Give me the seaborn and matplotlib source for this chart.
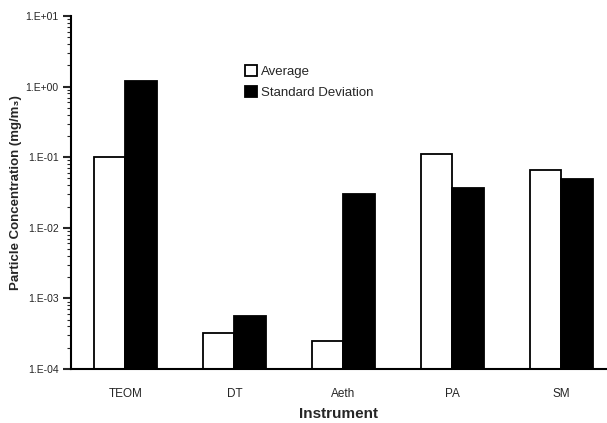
import numpy as np
import pandas as pd
import matplotlib
matplotlib.use("Agg")
import matplotlib.pyplot as plt
import matplotlib.ticker as mticker
import seaborn as sns

instruments = ["TEOM", "DT", "Aeth", "PA", "SM"]
average = [1.0e-1, 3.2e-4, 2.5e-4, 1.1e-1, 6.6e-2]
std_dev = [1.22, 5.7e-4, 3.0e-2, 3.6e-2, 4.9e-2]
series = ["Average", "Standard Deviation"]

df = pd.DataFrame({
    "instrument": instruments * 2,
    "stat": [series[0]] * len(instruments) + [series[1]] * len(instruments),
    "value": average + std_dev,
})

sns.set_style("white")
plt.rcParams["font.family"] = ["Liberation Sans", "DejaVu Sans"]

fig = plt.figure(figsize=(6.07, 4.23), dpi=100)
ax = fig.add_axes([0.117, 0.128, 0.881, 0.834])

sns.barplot(data=df, x="instrument", y="value", hue="stat",
            palette=["white", "black"], edgecolor="black", linewidth=1.3,
            width=0.58, gap=0, ax=ax)
# bars start at 0, log axis clips them to the bottom
ax.set_yscale("log", nonpositive="clip")

ax.set_ylim(1e-4, 1e1)
ax.set_xlim(-0.5, 4.41)
ax.yaxis.set_major_locator(mticker.LogLocator(base=10, numticks=10))
ax.yaxis.set_minor_locator(mticker.LogLocator(base=10, subs=np.arange(2, 10), numticks=20))
ax.yaxis.set_minor_formatter(mticker.NullFormatter())
ax.yaxis.set_major_formatter(mticker.FuncFormatter(lambda v, p: "1.E%+03d" % round(np.log10(v))))

for s in ["top", "right"]:
    ax.spines[s].set_visible(False)
for s in ["left", "bottom"]:
    ax.spines[s].set_color("black")
    ax.spines[s].set_linewidth(1.5)
    ax.spines[s].set_zorder(5)

ax.tick_params(axis="y", which="major", direction="out", length=6, width=1.5, labelsize=7.5, pad=3, left=True)
ax.tick_params(axis="y", which="minor", direction="out", length=3, width=0.8, left=True)
ax.tick_params(axis="x", length=0, labelsize=8.5, pad=14)

ax.set_xlabel("Instrument", fontsize=11, fontweight="bold", labelpad=5)
ax.set_ylabel("Particle Concentration (mg/m\u2083)", fontsize=9.5, fontweight="bold", labelpad=2)

handles, labels = ax.get_legend_handles_labels()
ax.legend(handles, labels, loc="upper left", bbox_to_anchor=(0.315, 0.875),
          frameon=False, fontsize=9.5, handlelength=0.9, handleheight=0.9,
          handletextpad=0.3, labelspacing=0.55, borderaxespad=0)

fig.savefig("out.png", dpi=100)
